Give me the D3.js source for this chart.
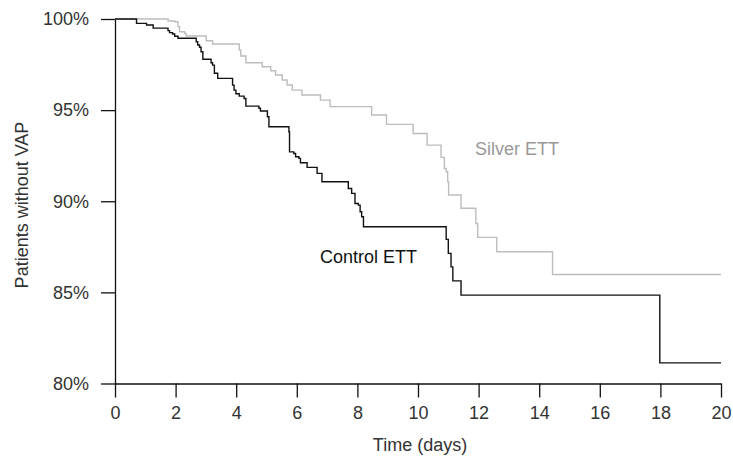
<!DOCTYPE html>
<html>
<head>
<meta charset="utf-8">
<script src="https://cdn.jsdelivr.net/npm/d3@7"></script>
<style>
  body { margin: 0; background: #fff; }
  svg { display: block; font-family: "Liberation Sans", Arial, sans-serif; }
</style>
</head>
<body>
<div id="chart"></div>
<script>
// Kaplan-Meier step data: time (days) and % patients without VAP
const controlTimes = [0, 0.71, 1.04, 1.26, 1.75, 1.80, 1.90, 1.97, 2.08, 2.68, 2.73, 2.79, 2.84, 2.90, 3.17, 3.22, 3.28, 3.39, 3.88, 3.93, 3.99, 4.10, 4.26, 4.32, 4.75, 4.80, 5.03, 5.08, 5.74, 5.76, 5.90, 5.96, 6.07, 6.12, 6.34, 6.67, 6.83, 7.70, 7.81, 7.92, 8.03, 8.09, 8.14, 8.20, 10.93, 11.00, 11.09, 11.15, 11.42, 17.98, 20];
const controlValues = [100, 99.76, 99.67, 99.50, 99.36, 99.25, 99.18, 99.05, 98.94, 98.75, 98.57, 98.45, 98.20, 97.79, 97.60, 97.47, 97.02, 96.74, 96.37, 96.10, 95.90, 95.77, 95.64, 95.22, 95.10, 94.95, 94.64, 94.09, 93.81, 92.71, 92.62, 92.44, 92.35, 92.11, 91.86, 91.53, 91.07, 90.70, 90.43, 89.88, 89.79, 89.42, 89.15, 88.60, 87.91, 87.14, 86.40, 85.63, 84.85, 81.13, 81.13];

const silverTimes = [0, 1.75, 1.97, 2.08, 2.13, 2.30, 2.35, 3.01, 3.22, 4.10, 4.15, 4.32, 4.86, 5.14, 5.30, 5.52, 5.68, 5.85, 6.17, 6.78, 7.10, 8.47, 8.96, 9.84, 10.30, 10.76, 10.87, 10.93, 10.98, 11.01, 11.42, 11.91, 11.97, 12.60, 14.44, 20];
const silverValues = [100, 99.89, 99.85, 99.58, 99.30, 99.21, 99.07, 98.81, 98.63, 98.30, 97.97, 97.60, 97.38, 97.16, 96.93, 96.65, 96.38, 96.10, 95.83, 95.55, 95.19, 94.73, 94.22, 93.72, 93.08, 92.41, 91.80, 91.62, 91.07, 90.34, 89.62, 88.78, 88.02, 87.23, 85.98, 85.98];

const xTicks = [0, 2, 4, 6, 8, 10, 12, 14, 16, 18, 20];
const yTicks = [80, 85, 90, 95, 100];

const width = 733;
const height = 459;
const fontSize = '18px';

const svg = d3.select('#chart')
    .append('svg')
    .attr('width', width)
    .attr('height', height);

const xScale = d3.scaleLinear().domain([0, 20]).range([115, 721]);
const yScale = d3.scaleLinear().domain([80, 100]).range([383.5, 19]);

const xAxis = d3.axisBottom(xScale)
    .tickValues(xTicks)
    .tickSize(14)
    .tickSizeOuter(0)
    .tickPadding(9)
    .tickFormat(d3.format('d'));

const yAxis = d3.axisLeft(yScale)
    .tickValues(yTicks)
    .tickSize(14)
    .tickSizeOuter(0)
    .tickPadding(12)
    .tickFormat(d => d + '%');

const gx = svg.append('g')
    .attr('transform', `translate(0, ${yScale(80)})`)
    .call(xAxis);

const gy = svg.append('g')
    .attr('transform', `translate(${xScale(0)}, 0)`)
    .call(yAxis);

[gx, gy].forEach(g => {
    g.selectAll('path, line').attr('stroke', '#111').attr('stroke-width', 1.3);
    g.selectAll('text').attr('fill', '#333').style('font-size', fontSize).attr('font-family', null);
});

// Survival curves
const line = d3.line()
    .x(d => xScale(d[0]))
    .y(d => yScale(d[1]))
    .curve(d3.curveStepAfter);

svg.append('path')
    .datum(d3.zip(silverTimes, silverValues))
    .attr('fill', 'none')
    .attr('stroke', '#bdbdbd')
    .attr('stroke-width', 1.4)
    .attr('d', line);

svg.append('path')
    .datum(d3.zip(controlTimes, controlValues))
    .attr('fill', 'none')
    .attr('stroke', '#111')
    .attr('stroke-width', 1.4)
    .attr('d', line);

// Labels
svg.append('text')
    .attr('x', 320)
    .attr('y', 263)
    .attr('fill', '#111')
    .style('font-size', fontSize)
    .text('Control ETT');

svg.append('text')
    .attr('x', 475)
    .attr('y', 155)
    .attr('fill', '#999')
    .style('font-size', fontSize)
    .text('Silver ETT');

svg.append('text')
    .attr('x', 420)
    .attr('y', 451)
    .attr('text-anchor', 'middle')
    .attr('fill', '#333')
    .style('font-size', fontSize)
    .text('Time (days)');

svg.append('text')
    .attr('transform', 'translate(28, 205) rotate(-90)')
    .attr('text-anchor', 'middle')
    .attr('fill', '#333')
    .style('font-size', fontSize)
    .text('Patients without VAP');
</script>
</body>
</html>
